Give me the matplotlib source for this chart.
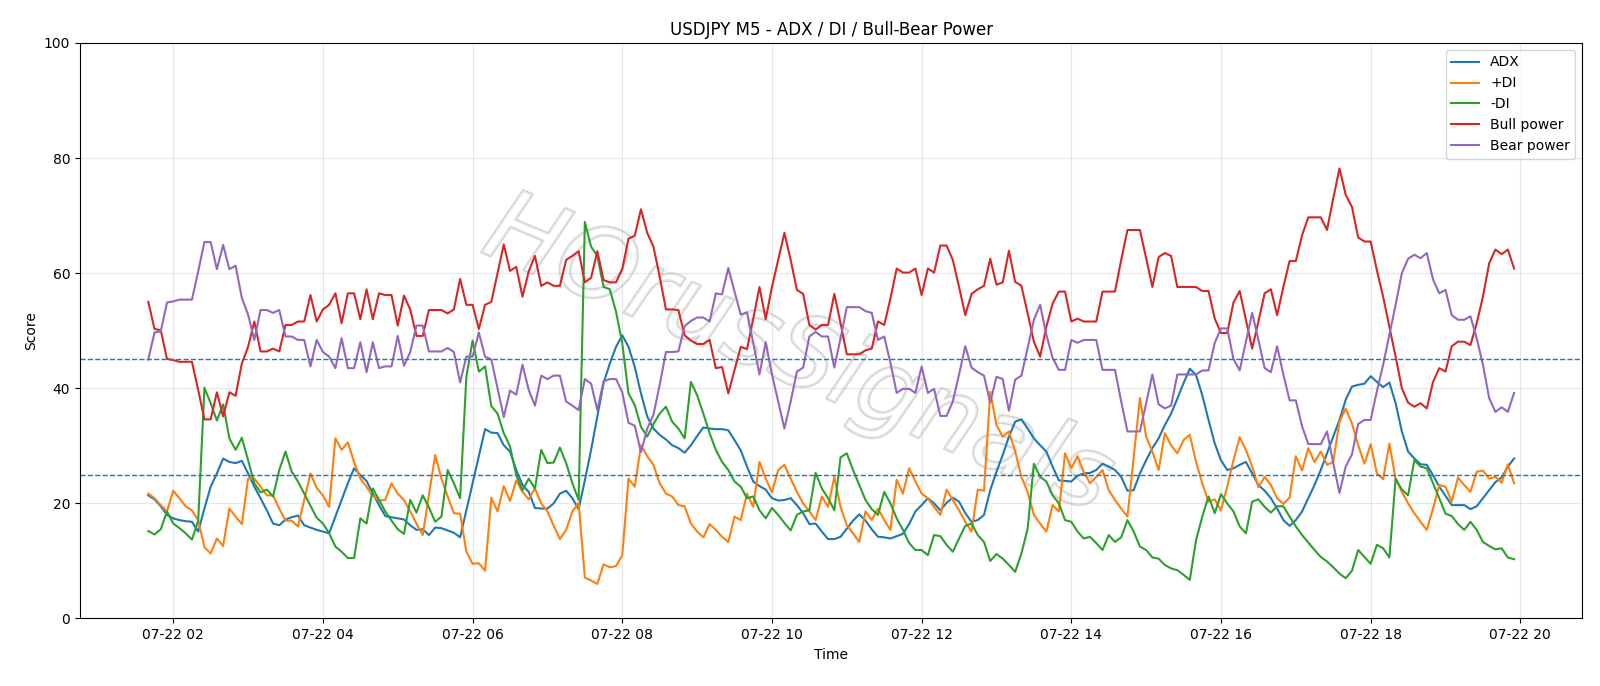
import matplotlib
matplotlib.use("Agg")
import matplotlib.pyplot as plt
import matplotlib.dates as mdates
import matplotlib.patheffects as pe
import pandas as pd

start_time = "2025-07-22 01:40"
n_points = 220

bull = [55.0, 50.3, 50.1, 45.1, 44.9, 44.6, 44.6, 44.6, 39.7, 34.6,
        34.6, 39.3, 35.1, 39.3, 38.7, 44.3, 47.2, 51.6, 46.4, 46.4,
        46.9, 46.4, 51.0, 51.0, 51.6, 51.6, 56.2, 51.6, 53.7, 54.5,
        56.5, 51.3, 56.5, 56.5, 52.0, 57.2, 52.0, 56.5, 56.2, 56.2,
        50.9, 56.1, 53.7, 49.1, 49.1, 53.6, 53.6, 53.6, 53.0, 53.7,
        59.0, 54.5, 54.5, 50.3, 54.5, 55.0, 60.0, 65.0, 60.4, 61.1,
        55.9, 60.3, 63.0, 57.8, 58.4, 57.8, 57.8, 62.3, 63.0, 63.8,
        58.4, 59.2, 63.8, 58.8, 58.4, 58.4, 60.7, 66.0, 66.5, 71.1,
        67.0, 64.6, 59.4, 53.7, 53.7, 53.6, 49.2, 48.3, 47.7, 47.7,
        48.4, 43.5, 43.7, 39.1, 43.2, 47.2, 46.8, 52.1, 57.6, 52.0,
        57.6, 62.3, 67.0, 62.3, 57.1, 56.4, 51.0, 50.2, 51.0, 51.0,
        56.4, 51.3, 45.9, 45.9, 45.9, 46.6, 46.9, 51.6, 51.0, 55.6,
        60.8, 60.1, 60.1, 60.8, 56.2, 60.8, 60.1, 64.8, 64.8, 62.3,
        57.6, 52.7, 56.4, 57.2, 57.8, 62.5, 58.0, 58.4, 63.9, 58.5,
        57.8, 53.0, 48.1, 45.5, 50.7, 54.7, 56.8, 56.8, 51.6, 52.1,
        51.6, 51.6, 51.6, 56.8, 56.8, 56.8, 62.3, 67.5, 67.5, 67.5,
        62.6, 57.6, 62.8, 63.5, 63.0, 57.6, 57.6, 57.6, 57.6, 56.9,
        56.9, 52.1, 49.6, 49.6, 54.9, 56.9, 51.9, 46.9, 51.6, 56.5,
        57.2, 52.7, 57.6, 62.1, 62.1, 66.6, 69.7, 69.7, 69.7, 67.5,
        73.0, 78.2, 73.6, 71.5, 66.2, 65.5, 65.5, 60.5, 55.9, 50.7,
        45.5, 40.0, 37.5, 36.8, 37.4, 36.5, 41.1, 43.5, 42.9, 47.3,
        48.1, 48.1, 47.5, 51.3, 55.9, 61.7, 64.1, 63.3, 64.1, 60.8]

bear = [45.0, 49.7, 49.9, 54.9, 55.1, 55.4, 55.4, 55.4, 60.3, 65.4,
        65.4, 60.7, 64.9, 60.7, 61.3, 55.7, 52.8, 48.4, 53.6, 53.6,
        53.1, 53.6, 49.0, 49.0, 48.4, 48.4, 43.8, 48.4, 46.3, 45.5,
        43.5, 48.7, 43.5, 43.5, 48.0, 42.8, 48.0, 43.5, 43.8, 43.8,
        49.1, 43.9, 46.3, 50.9, 50.9, 46.4, 46.4, 46.4, 47.0, 46.3,
        41.0, 45.5, 45.5, 49.7, 45.5, 45.0, 40.0, 35.0, 39.6, 38.9,
        44.1, 39.7, 37.0, 42.2, 41.6, 42.2, 42.2, 37.7, 37.0, 36.2,
        41.6, 40.8, 36.2, 41.2, 41.6, 41.6, 39.3, 34.0, 33.5, 28.9,
        33.0, 35.4, 40.6, 46.3, 46.3, 46.4, 50.8, 51.7, 52.3, 52.3,
        51.6, 56.5, 56.3, 60.9, 56.8, 52.8, 53.2, 47.9, 42.4, 48.0,
        42.4, 37.7, 33.0, 37.7, 42.9, 43.6, 49.0, 49.8, 49.0, 49.0,
        43.6, 48.7, 54.1, 54.1, 54.1, 53.4, 53.1, 48.4, 49.0, 44.4,
        39.2, 39.9, 39.9, 39.2, 43.8, 39.2, 39.9, 35.2, 35.2, 37.7,
        42.4, 47.3, 43.6, 42.8, 42.2, 37.5, 42.0, 41.6, 36.1, 41.5,
        42.2, 47.0, 51.9, 54.5, 49.3, 45.3, 43.2, 43.2, 48.4, 47.9,
        48.4, 48.4, 48.4, 43.2, 43.2, 43.2, 37.7, 32.5, 32.5, 32.5,
        37.4, 42.4, 37.2, 36.5, 37.0, 42.4, 42.4, 42.4, 42.4, 43.1,
        43.1, 47.9, 50.4, 50.4, 45.1, 43.1, 48.1, 53.1, 48.4, 43.5,
        42.8, 47.3, 42.4, 37.9, 37.9, 33.4, 30.3, 30.3, 30.3, 32.5,
        27.0, 21.8, 26.4, 28.5, 33.8, 34.5, 34.5, 39.5, 44.1, 49.3,
        54.5, 60.0, 62.5, 63.2, 62.6, 63.5, 58.9, 56.5, 57.1, 52.7,
        51.9, 51.9, 52.5, 48.7, 44.1, 38.3, 35.9, 36.7, 35.9, 39.2]

adx = [21.4, 20.7, 19.5, 18.0, 17.4, 17.1, 16.9, 16.8, 15.1, 19.1,
       22.9, 25.2, 27.8, 27.2, 27.0, 27.4, 25.2, 22.9, 20.9, 18.8,
       16.5, 16.2, 17.2, 17.6, 17.9, 16.2, 15.8, 15.4, 15.1, 14.8,
       17.7, 20.6, 23.5, 26.1, 24.9, 23.9, 21.7, 19.7, 17.8, 17.6,
       17.4, 17.2, 16.2, 15.4, 15.5, 14.5, 15.8, 15.7, 15.3, 14.9,
       14.1, 18.8, 23.5, 28.2, 32.9, 32.3, 32.2, 30.1, 29.0, 25.8,
       23.2, 22.0, 19.2, 19.1, 19.1, 20.0, 21.7, 22.2, 20.9, 19.0,
       24.0, 29.3, 35.1, 40.9, 44.3, 47.2, 49.2, 47.2, 43.7, 39.1,
       35.1, 33.0, 31.9, 31.1, 30.1, 29.6, 28.8, 30.1, 31.7, 33.2,
       33.0, 32.9, 32.9, 32.7, 31.0, 29.2, 26.4, 23.8, 23.0, 22.4,
       20.9, 20.5, 20.6, 20.9, 19.7, 18.3, 16.4, 16.5, 15.1, 13.8,
       13.8, 14.2, 15.6, 17.0, 18.1, 17.0, 15.5, 14.2, 14.1, 13.9,
       14.3, 14.7, 16.4, 18.6, 19.7, 20.9, 20.0, 18.8, 20.1, 21.0,
       20.3, 18.3, 16.8, 17.1, 18.0, 22.3, 25.5, 28.4, 31.6, 34.2,
       34.6, 33.0, 31.3, 30.1, 29.0, 26.4, 24.0, 23.9, 23.8, 24.8,
       25.2, 25.3, 25.8, 26.9, 26.4, 25.8, 24.6, 22.2, 22.3, 25.2,
       27.5, 29.6, 31.3, 33.6, 35.6, 38.2, 40.9, 43.4, 42.3, 38.8,
       34.5, 30.4, 27.5, 25.8, 26.1, 26.7, 27.2, 25.2, 23.2, 22.2,
       20.9, 19.1, 17.1, 16.1, 17.1, 18.6, 20.9, 23.2, 25.8, 28.7,
       31.6, 34.5, 38.0, 40.3, 40.6, 40.8, 42.1, 41.1, 40.2, 41.0,
       37.4, 32.5, 29.0, 27.8, 26.8, 26.7, 24.9, 22.9, 21.3, 19.7,
       19.7, 19.7, 19.0, 19.5, 20.9, 22.3, 23.7, 24.5, 26.4, 27.8]

plus_di = [21.7, 20.9, 19.7, 18.6, 22.2, 20.9, 19.5, 18.8, 17.1, 12.4,
           11.3, 13.9, 12.6, 19.1, 17.7, 16.4, 24.3, 24.3, 22.9, 21.4,
           21.4, 19.1, 17.0, 17.0, 16.0, 20.6, 25.2, 22.7, 21.4, 19.4,
           31.3, 29.3, 30.6, 27.2, 24.3, 22.9, 21.3, 20.5, 20.6, 23.5,
           21.7, 20.6, 18.6, 16.5, 14.5, 21.4, 28.4, 24.3, 21.2, 18.3,
           18.2, 11.6, 9.5, 9.6, 8.3, 21.0, 18.6, 23.0, 20.4, 24.0,
           22.0, 20.7, 22.6, 20.0, 18.6, 16.1, 13.8, 15.4, 18.6, 20.1,
           7.1, 6.6, 6.0, 9.4, 8.9, 9.1, 11.0, 24.3, 22.9, 30.1,
           28.2, 26.7, 23.5, 21.7, 21.2, 19.7, 19.5, 16.5, 15.1, 14.1,
           16.4, 15.4, 14.2, 13.3, 17.7, 17.1, 21.7, 19.4, 27.2, 24.3,
           21.9, 25.8, 26.7, 24.3, 22.0, 20.0, 18.6, 17.1, 21.2, 19.4,
           24.6, 19.4, 16.2, 14.8, 13.3, 18.6, 17.1, 19.1, 17.1, 15.4,
           24.1, 21.7, 26.1, 23.8, 21.7, 20.9, 19.4, 18.0, 22.4, 20.6,
           18.8, 16.8, 15.1, 22.4, 22.2, 39.4, 33.6, 31.6, 32.5, 29.0,
           24.6, 22.0, 18.0, 16.5, 15.1, 19.7, 18.6, 28.7, 26.1, 28.2,
           25.5, 23.5, 24.6, 25.8, 22.3, 20.6, 19.1, 17.7, 28.0, 38.3,
           31.6, 29.0, 25.8, 32.2, 30.1, 28.7, 31.0, 31.9, 27.2, 23.5,
           20.3, 20.7, 18.8, 22.9, 27.5, 31.5, 29.3, 26.4, 22.8, 24.6,
           23.2, 20.9, 19.9, 21.0, 28.2, 25.7, 29.6, 27.2, 29.0, 26.7,
           27.2, 34.2, 36.5, 33.9, 30.1, 26.9, 30.3, 25.2, 24.2, 30.4,
           24.3, 22.0, 20.0, 18.3, 16.8, 15.4, 19.1, 23.2, 22.9, 20.3,
           24.5, 23.2, 22.0, 25.5, 25.7, 24.3, 24.6, 23.6, 26.8, 23.5]

minus_di = [15.2, 14.6, 15.5, 18.6, 16.5, 15.7, 14.8, 13.7, 17.0, 40.1,
            37.4, 34.4, 37.2, 31.3, 29.3, 31.4, 27.5, 23.5, 21.9, 22.4,
            21.2, 25.8, 29.0, 25.5, 23.8, 21.7, 19.6, 17.5, 16.5, 14.8,
            12.5, 11.6, 10.5, 10.5, 17.4, 16.5, 22.6, 20.6, 18.6, 17.0,
            15.5, 14.7, 20.6, 18.4, 21.4, 19.3, 16.8, 17.7, 25.8, 23.5,
            20.9, 42.0, 48.3, 42.9, 43.8, 36.9, 35.6, 32.2, 29.9, 24.9,
            22.3, 24.3, 22.6, 29.3, 27.0, 27.1, 29.7, 27.0, 23.5, 20.6,
            68.9, 64.6, 63.0, 57.6, 57.2, 53.3, 47.8, 39.1, 37.1, 33.3,
            31.6, 33.8, 35.6, 36.8, 34.2, 33.0, 31.3, 41.1, 38.8, 35.6,
            32.2, 29.3, 27.2, 25.8, 23.8, 22.9, 20.9, 21.2, 18.8, 17.4,
            19.2, 18.0, 16.6, 15.3, 18.0, 18.6, 18.8, 25.3, 22.6, 20.9,
            18.8, 28.0, 28.7, 25.8, 23.2, 20.6, 19.0, 18.0, 22.0, 20.0,
            17.4, 15.4, 13.1, 11.9, 11.9, 11.0, 14.5, 14.3, 12.8, 11.6,
            13.9, 16.1, 16.5, 14.5, 13.3, 10.0, 11.2, 10.4, 9.3, 8.1,
            11.3, 15.6, 26.9, 24.6, 23.8, 21.4, 20.0, 17.1, 16.8, 15.1,
            13.9, 14.2, 13.1, 11.9, 14.5, 13.3, 14.1, 17.1, 15.1, 12.5,
            11.9, 10.6, 10.4, 9.3, 8.7, 8.4, 7.6, 6.7, 13.6, 17.7,
            21.2, 18.3, 21.6, 20.0, 18.6, 16.0, 14.8, 20.3, 20.7, 19.4,
            18.4, 19.5, 19.5, 17.7, 16.0, 14.5, 13.2, 11.9, 10.7, 9.9,
            8.9, 7.8, 7.0, 8.3, 11.9, 10.7, 9.5, 12.8, 12.2, 10.6,
            24.3, 22.4, 21.4, 27.5, 26.4, 26.1, 23.5, 20.9, 18.2, 17.8,
            16.4, 15.4, 16.8, 15.4, 13.3, 12.6, 12.0, 12.2, 10.6, 10.3]

thresholds = [25, 45]
watermark = "HOrusSignals"

times = pd.date_range(start_time, periods=n_points, freq="5min")

fig = plt.figure(figsize=(16, 6.86), dpi=100)
ax = fig.add_axes([0.05, 0.0984, 0.939, 0.839])

ax.text(0.478, 0.455, watermark, transform=ax.transAxes, fontsize=72,
        style="italic", fontweight="light", rotation=-23,
        ha="center", va="center", color="white", alpha=0.45, zorder=0,
        path_effects=[pe.withStroke(linewidth=2.0, foreground="#a0a0a0")])

ax.plot(times, adx, color="C0", lw=1.5, label="ADX")
ax.plot(times, plus_di, color="C1", lw=1.5, label="+DI")
ax.plot(times, minus_di, color="C2", lw=1.5, label="-DI")
ax.plot(times, bull, color="C3", lw=1.5, label="Bull power")
ax.plot(times, bear, color="C4", lw=1.5, label="Bear power")
for t in thresholds:
    ax.axhline(t, color="C0", linestyle="--", lw=1.0)

ax.set_ylim(0, 100)
ax.set_title("USDJPY M5 - ADX / DI / Bull-Bear Power", fontsize=12)
ax.set_xlabel("Time")
ax.set_ylabel("Score")
ax.xaxis.set_major_locator(mdates.HourLocator(interval=2))
ax.xaxis.set_major_formatter(mdates.DateFormatter("%m-%d %H"))
ax.grid(True, alpha=0.3)
ax.legend(loc="upper right")

fig.savefig("out.png", dpi=100)
